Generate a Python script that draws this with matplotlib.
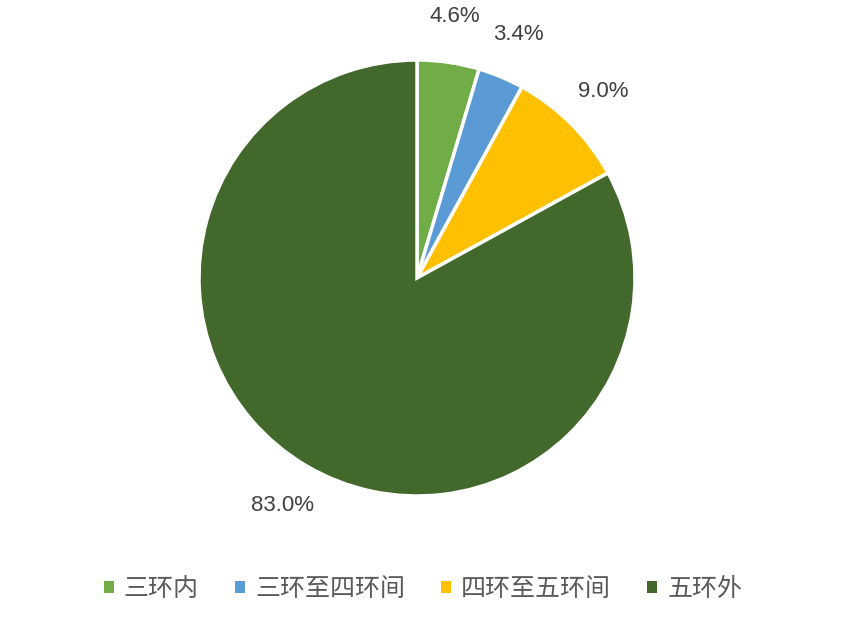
import matplotlib
matplotlib.use("Agg")
import matplotlib.pyplot as plt

# data
categories = ["三环内", "三环至四环间", "四环至五环间", "五环外"]
shares = [4.6, 3.4, 9.0, 83.0]
colors = ["#70AD47", "#5B9BD5", "#FFC000", "#43682B"]

plt.rcParams['font.family'] = ['Liberation Sans', 'Noto Sans CJK SC', 'DejaVu Sans']

fig = plt.figure(figsize=(8.46, 6.24), dpi=100)
# pie centred at about (417, 278) px with radius ~218 px
ax = fig.add_axes([199 / 846, 1 - 496 / 624, 436 / 846, 436 / 624])

wedges, texts, autotexts = ax.pie(
    shares,
    colors=colors,
    startangle=90,
    counterclock=False,
    radius=1.0,
    autopct="%.1f%%",
    pctdistance=1.21,
    wedgeprops=dict(edgecolor="white", linewidth=2.5),
    textprops=dict(fontsize=16, color="#404040"),
)
ax.set_xlim(-1, 1)
ax.set_ylim(-1, 1)
ax.set_aspect("equal")

leg = fig.legend(
    wedges, categories,
    loc="center", bbox_to_anchor=(0.5, 1 - 589 / 624),
    ncol=4, frameon=False,
    prop={'family': ['Noto Sans CJK SC', 'DejaVu Sans'], 'size': 18},
    handlelength=0.4, handleheight=0.4, handletextpad=0.4,
    columnspacing=1.45,
)
for t in leg.get_texts():
    t.set_color("#595959")
for h in leg.legend_handles:
    h.set_edgecolor("none")

fig.savefig("out.png", dpi=100)
